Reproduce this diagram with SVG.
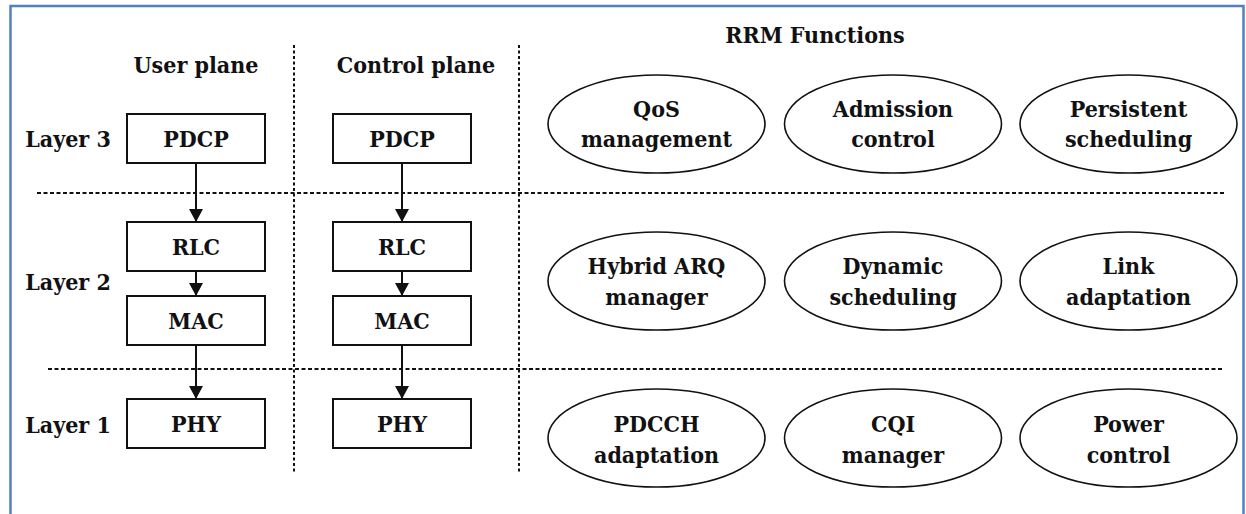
<svg xmlns="http://www.w3.org/2000/svg" width="1246" height="514" viewBox="0 0 1246 514">
  <style>
    text { font-family: 'DejaVu Serif', serif; font-stretch: condensed; font-weight: 700; font-size: 23px; fill: #111; text-anchor: middle; }
    .box { fill: #fff; stroke: #111; stroke-width: 2; }
    .fn { fill: #fff; stroke: #111; stroke-width: 1.6; }
    .hsep { stroke: #111; stroke-width: 2; stroke-dasharray: 4 2.5; fill: none; }
    .vsep { stroke: #111; stroke-width: 2; stroke-dasharray: 3 2.5; fill: none; }
    .link { stroke: #111; stroke-width: 2; fill: none; marker-end: url(#arrow); }
  </style>
  <defs>
    <marker id="arrow" markerUnits="userSpaceOnUse" viewBox="0 0 13 14" refX="13" refY="7" markerWidth="13" markerHeight="14" orient="auto">
      <path d="M0,0 L13,7 L0,14 z" fill="#111"/>
    </marker>
  </defs>

  <rect width="1246" height="514" fill="#fff"/>
  <!-- outer frame -->
  <rect x="10.5" y="6" width="1233" height="520" fill="none" stroke="#4f81bd" stroke-width="2.5"/>

  <!-- separators between layers and planes -->
  <g id="separators">
    <line class="hsep" x1="37" y1="193" x2="1225" y2="193"/>
    <line class="hsep" x1="48" y1="369" x2="1223" y2="369"/>
    <line class="vsep" x1="294" y1="45" x2="294" y2="474"/>
    <line class="vsep" x1="519" y1="45" x2="519" y2="474"/>
  </g>

  <!-- headings -->
  <g id="headings">
    <text x="196" y="73">User plane</text>
    <text x="416" y="73">Control plane</text>
    <text x="815" y="43">RRM Functions</text>
    <text x="68" y="147">Layer 3</text>
    <text x="68" y="290">Layer 2</text>
    <text x="68" y="433">Layer 1</text>
  </g>

  <!-- connectors -->
  <g id="connectors">
    <line class="link" x1="196" y1="163" x2="196" y2="222"/>
    <line class="link" x1="196" y1="271" x2="196" y2="296"/>
    <line class="link" x1="196" y1="345" x2="196" y2="399"/>
    <line class="link" x1="402" y1="163" x2="402" y2="222"/>
    <line class="link" x1="402" y1="271" x2="402" y2="296"/>
    <line class="link" x1="402" y1="345" x2="402" y2="399"/>
  </g>

  <!-- user plane stack -->
  <g id="up-pdcp"><rect class="box" x="127" y="114" width="138" height="49"/><text x="196" y="147">PDCP</text></g>
  <g id="up-rlc"><rect class="box" x="127" y="222" width="138" height="49"/><text x="196" y="255">RLC</text></g>
  <g id="up-mac"><rect class="box" x="127" y="296" width="138" height="49"/><text x="196" y="329">MAC</text></g>
  <g id="up-phy"><rect class="box" x="127" y="399" width="138" height="49"/><text x="196" y="432">PHY</text></g>

  <!-- control plane stack -->
  <g id="cp-pdcp"><rect class="box" x="333" y="114" width="138" height="49"/><text x="402" y="147">PDCP</text></g>
  <g id="cp-rlc"><rect class="box" x="333" y="222" width="138" height="49"/><text x="402" y="255">RLC</text></g>
  <g id="cp-mac"><rect class="box" x="333" y="296" width="138" height="49"/><text x="402" y="329">MAC</text></g>
  <g id="cp-phy"><rect class="box" x="333" y="399" width="138" height="49"/><text x="402" y="432">PHY</text></g>

  <!-- RRM functions, layer 3 -->
  <g id="fn-qos"><ellipse class="fn" cx="656.5" cy="124" rx="108.5" ry="49"/><text x="656.5" y="117">QoS</text><text x="656.5" y="147">management</text></g>
  <g id="fn-admission"><ellipse class="fn" cx="893" cy="124" rx="108.5" ry="49"/><text x="893" y="117">Admission</text><text x="893" y="147">control</text></g>
  <g id="fn-persistent"><ellipse class="fn" cx="1128.5" cy="124" rx="108.5" ry="49"/><text x="1128.5" y="117">Persistent</text><text x="1128.5" y="147">scheduling</text></g>

  <!-- RRM functions, layer 2 -->
  <g id="fn-harq"><ellipse class="fn" cx="656.5" cy="281" rx="108.5" ry="49"/><text x="656.5" y="274">Hybrid ARQ</text><text x="656.5" y="305">manager</text></g>
  <g id="fn-dynamic"><ellipse class="fn" cx="893" cy="281" rx="108.5" ry="49"/><text x="893" y="274">Dynamic</text><text x="893" y="305">scheduling</text></g>
  <g id="fn-link"><ellipse class="fn" cx="1128.5" cy="281" rx="108.5" ry="49"/><text x="1128.5" y="274">Link</text><text x="1128.5" y="305">adaptation</text></g>

  <!-- RRM functions, layer 1 -->
  <g id="fn-pdcch"><ellipse class="fn" cx="656.5" cy="438" rx="108.5" ry="49"/><text x="656.5" y="432">PDCCH</text><text x="656.5" y="463">adaptation</text></g>
  <g id="fn-cqi"><ellipse class="fn" cx="893" cy="438" rx="108.5" ry="49"/><text x="893" y="432">CQI</text><text x="893" y="463">manager</text></g>
  <g id="fn-power"><ellipse class="fn" cx="1128.5" cy="438" rx="108.5" ry="49"/><text x="1128.5" y="432">Power</text><text x="1128.5" y="463">control</text></g>
</svg>
